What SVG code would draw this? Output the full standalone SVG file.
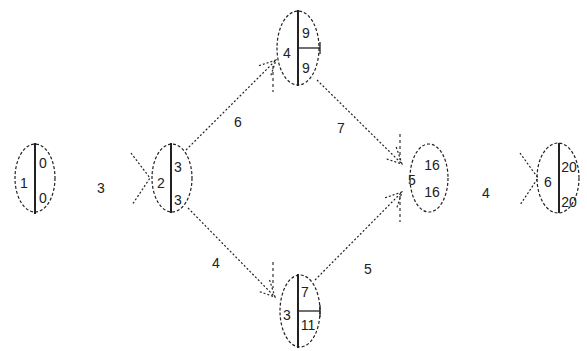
<svg xmlns="http://www.w3.org/2000/svg" width="587" height="351" viewBox="0 0 587 351">
<style>
.ell{fill:none;stroke:#222;stroke-width:1.2;stroke-dasharray:3,2}
.bar{stroke:#222;stroke-width:2}
.thin{stroke:#222;stroke-width:1.3}
.edge{fill:none;stroke:#222;stroke-width:1.2;stroke-dasharray:2,2}
.tick{stroke:#333;stroke-width:1.2;stroke-dasharray:3,3}
text{font-family:"Liberation Sans",Arial,sans-serif;font-size:14px;fill:#222;text-anchor:middle}
</style>
<defs>
<marker id="arr" markerUnits="userSpaceOnUse" markerWidth="30" markerHeight="30" viewBox="-20 -15 30 30" refX="0" refY="0" orient="auto">
<path d="M-16,-8 L0,0 L-16,8" fill="none" stroke="#222" stroke-width="1.2" stroke-dasharray="2,2"/>
</marker>
</defs>
<rect width="587" height="351" fill="#fff"/>
<g id="edges">
<path class="edge" d="M186,150 L276,60" marker-end="url(#arr)"/>
<path class="edge" d="M188,208 L275,297" marker-end="url(#arr)"/>
<path class="edge" d="M317,80 L402,164" marker-end="url(#arr)"/>
<path class="edge" d="M315,280 L402,192" marker-end="url(#arr)"/>
<path class="edge" d="M131,153 L150,178 L132,205"/>
<path class="edge" d="M520,153 L538,178 L520,205"/>
<line class="tick" x1="273" y1="66" x2="273" y2="92"/>
<line class="tick" x1="273" y1="262" x2="273" y2="288"/>
<line class="tick" x1="400" y1="134" x2="400" y2="160"/>
<line class="tick" x1="400" y1="196" x2="400" y2="222"/>
<text x="101" y="193">3</text>
<text x="238" y="127">6</text>
<text x="216" y="268">4</text>
<text x="341" y="133">7</text>
<text x="368" y="274">5</text>
<text x="486" y="198">4</text>
</g>
<g id="n1">
<ellipse class="ell" cx="35" cy="178" rx="20" ry="34"/>
<line class="bar" x1="35" y1="143" x2="35" y2="214"/>
<text x="24" y="188">1</text>
<text x="43" y="168">0</text>
<text x="43" y="203">0</text>
</g>
<g id="n2">
<ellipse class="ell" cx="172" cy="178" rx="20" ry="34"/>
<line class="bar" x1="171" y1="143" x2="171" y2="213"/>
<text x="161" y="188">2</text>
<text x="178" y="172">3</text>
<text x="178" y="205">3</text>
</g>
<g id="n4">
<ellipse class="ell" cx="298" cy="48" rx="21" ry="37"/>
<line class="bar" x1="298" y1="10" x2="298" y2="86"/>
<line class="thin" x1="298" y1="48" x2="320" y2="48"/>
<line class="thin" x1="320" y1="42" x2="320" y2="54"/>
<text x="287" y="58">4</text>
<text x="306" y="38">9</text>
<text x="306" y="73">9</text>
</g>
<g id="n3">
<ellipse class="ell" cx="300" cy="311" rx="20" ry="36"/>
<line class="bar" x1="298" y1="274" x2="298" y2="348"/>
<line class="thin" x1="298" y1="311" x2="320" y2="311"/>
<line class="thin" x1="320" y1="305" x2="320" y2="317"/>
<text x="287" y="320">3</text>
<text x="305" y="297">7</text>
<text x="308" y="330">11</text>
</g>
<g id="n5">
<ellipse class="ell" cx="429" cy="178" rx="19" ry="34"/>
<text x="412" y="185">5</text>
<text x="432" y="170">16</text>
<text x="432" y="197">16</text>
</g>
<g id="n6">
<ellipse class="ell" cx="558" cy="178" rx="21" ry="35"/>
<line class="bar" x1="559" y1="143" x2="559" y2="213"/>
<text x="548" y="187">6</text>
<text x="569" y="172">20</text>
<text x="569" y="207">20</text>
</g>
</svg>
